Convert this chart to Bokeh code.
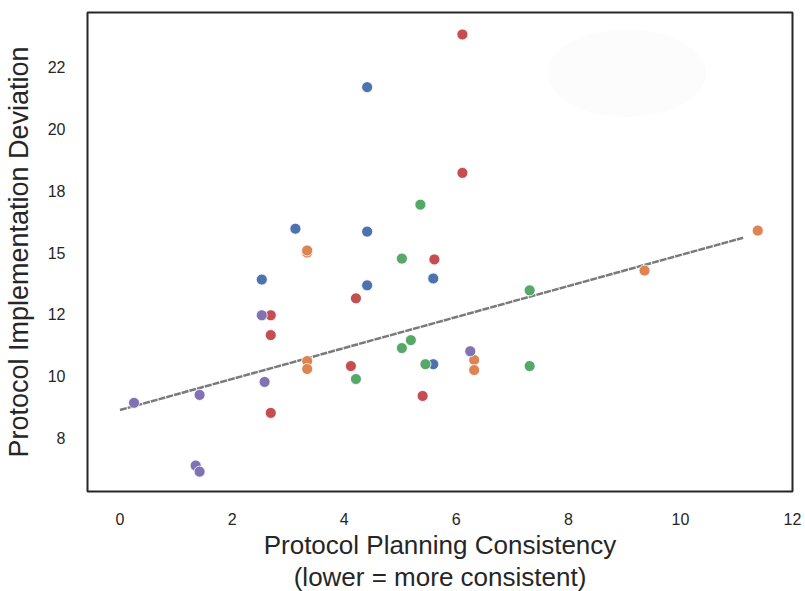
from bokeh.plotting import figure
from bokeh.models import FixedTicker, Range1d, Title
from bokeh.embed import file_html
from bokeh.resources import INLINE

# ---- data ----
blue_x = [4.41, 3.13, 4.41, 2.53, 5.59, 4.41, 5.59]
blue_y = [21.25, 15.90, 15.79, 13.98, 14.02, 13.76, 10.78]

orange_x = [3.34, 3.34, 3.34, 3.34, 6.32, 6.32, 9.36, 11.38]
orange_y = [15.00, 15.08, 10.90, 10.60, 10.94, 10.56, 14.32, 15.83]

green_x = [5.36, 5.03, 7.31, 5.19, 5.03, 5.45, 4.21, 7.31]
green_y = [16.81, 14.77, 13.57, 11.69, 11.39, 10.78, 10.22, 10.71]

red_x = [6.11, 6.11, 5.61, 4.21, 2.69, 2.69, 4.12, 5.40, 2.69]
red_y = [23.24, 18.01, 14.74, 13.27, 12.63, 11.88, 10.71, 9.58, 8.94]

purple_x = [2.53, 6.25, 2.58, 1.42, 0.25, 1.35, 1.42]
purple_y = [12.63, 11.27, 10.11, 9.62, 9.32, 6.95, 6.72]

trend_x = [0.0, 11.12]
trend_y = [9.05, 15.56]

x_ticks = [0, 2, 4, 6, 8, 10, 12]
y_ticks = [8, 10.333, 12.667, 15, 17.333, 19.667, 22]
y_tick_labels = ["8", "10", "12", "15", "18", "20", "22"]

x_label_lines = ["Protocol Planning Consistency", "(lower = more consistent)"]
y_label = "Protocol Implementation Deviation"

series = [
    (blue_x, blue_y, "#4C72B0"),
    (orange_x, orange_y, "#DD8452"),
    (green_x, green_y, "#55A868"),
    (red_x, red_y, "#C44E52"),
    (purple_x, purple_y, "#8172B3"),
]

FONT = "Liberation Sans"
TXT = "#262626"

p = figure(width=805, height=591, output_backend="svg", toolbar_location=None,
           x_range=Range1d(-0.58, 12.0), y_range=Range1d(5.97, 24.07),
           min_border_left=84, min_border_right=13, min_border_top=12,
           min_border_bottom=98)

p.background_fill_color = "white"
p.border_fill_color = "white"
p.outline_line_color = "#262626"
p.outline_line_width = 2
p.xgrid.visible = False
p.ygrid.visible = False

# very faint blob in the upper right of the reference
p.ellipse(x=[9.04], y=[21.77], width=[2.83], height=[3.3],
          fill_color="#fcfcfc", fill_alpha=1.0, line_color=None)

p.line(trend_x, trend_y, line_color="#7a7a7a", line_width=2.5,
       line_dash="7 1")

for xs, ys, c in series:
    p.scatter(xs, ys, size=11, fill_color=c, line_color="white",
              line_width=0.8)

for ax in (p.xaxis, p.yaxis):
    ax.axis_line_color = None
    ax.major_tick_line_color = None
    ax.minor_tick_line_color = None
    ax.major_label_text_font = FONT
    ax.major_label_text_font_size = "16px"
    ax.major_label_text_color = TXT
    ax.axis_label_text_font = FONT
    ax.axis_label_text_font_size = "27px"
    ax.axis_label_text_font_style = "normal"
    ax.axis_label_text_color = TXT

p.xaxis.ticker = FixedTicker(ticks=x_ticks)
p.yaxis.ticker = FixedTicker(ticks=y_ticks)
p.yaxis.major_label_overrides = {t: l for t, l in zip(y_ticks, y_tick_labels)}

p.xaxis.major_label_standoff = 15
p.yaxis.major_label_standoff = 16
p.yaxis.axis_label = y_label
p.yaxis.axis_label_standoff = 11

for line in x_label_lines:
    t = Title(text=line, align="center", text_font=FONT,
              text_font_size="26px", text_font_style="normal",
              text_color=TXT, standoff=0, offset=0)
    p.add_layout(t, "below")

open("out.html", "w").write(file_html(p, INLINE))
